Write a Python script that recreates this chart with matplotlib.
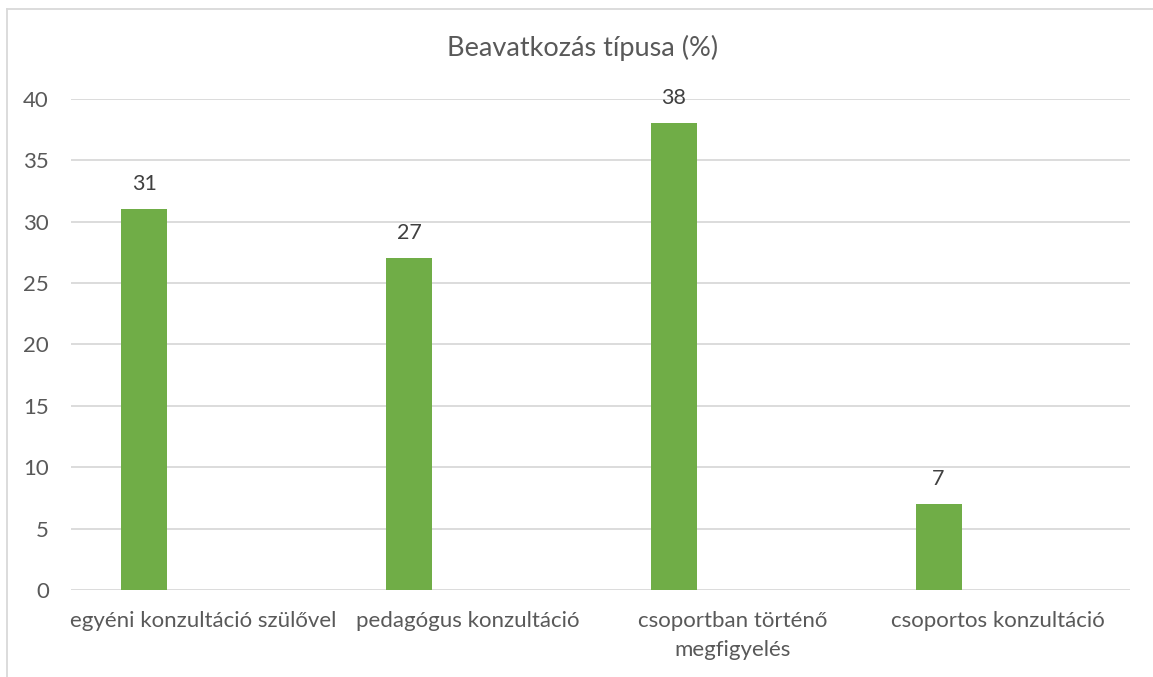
import numpy as np
import matplotlib.pyplot as plt
from matplotlib.lines import Line2D

plt.rcParams['font.family'] = ['Lato', 'DejaVu Sans']

# Adatok
categories = ['egyéni konzultáció szülővel', 'pedagógus konzultáció',
              'csoportban történő\nmegfigyelés', 'csoportos konzultáció']
values = [31, 27, 38, 7]
yticks = [0, 5, 10, 15, 20, 25, 30, 35, 40]

fig = plt.figure(figsize=(11.53, 6.77), dpi=100)
ax = fig.add_axes([71 / 1153, 1 - 590 / 677, 1059 / 1153, (590 - 98.7) / 677])

x = np.arange(len(categories))
bars = ax.bar(x - 0.223, values, width=0.174, color='#70AD47', zorder=3)
for b, v in zip(bars, values):
    ax.annotate(str(v), (b.get_x() + b.get_width() / 2, v), xytext=(0, 11),
                textcoords='offset points', ha='center', va='bottom',
                fontsize=15.5, color='#404040')

ax.set_xlim(-0.5, len(categories) - 0.5)
ax.set_ylim(0, 40)
ax.set_yticks(yticks)
ax.set_xticks(x)
ax.set_xticklabels(categories, fontsize=16, color='#595959', linespacing=1.6)
ax.tick_params(axis='y', length=0, pad=16, labelsize=16, labelcolor='#595959')
ax.tick_params(axis='x', length=0, pad=15)
ax.grid(axis='y', color='#d9d9d9', linewidth=1.3, zorder=0)
for s in ax.spines.values():
    s.set_visible(False)

fig.text(583 / 1153, 1 - 48 / 677, 'Beavatkozás típusa (%)', ha='center',
         va='center', fontsize=19.5, color='#595959')

# keret
fig.add_artist(Line2D([7 / 1153, 1], [1 - 9 / 677] * 2, color='#d9d9d9', lw=1.3))
fig.add_artist(Line2D([7 / 1153] * 2, [0, 1 - 9 / 677], color='#d9d9d9', lw=1.3))

fig.savefig('out.png', dpi=100)
